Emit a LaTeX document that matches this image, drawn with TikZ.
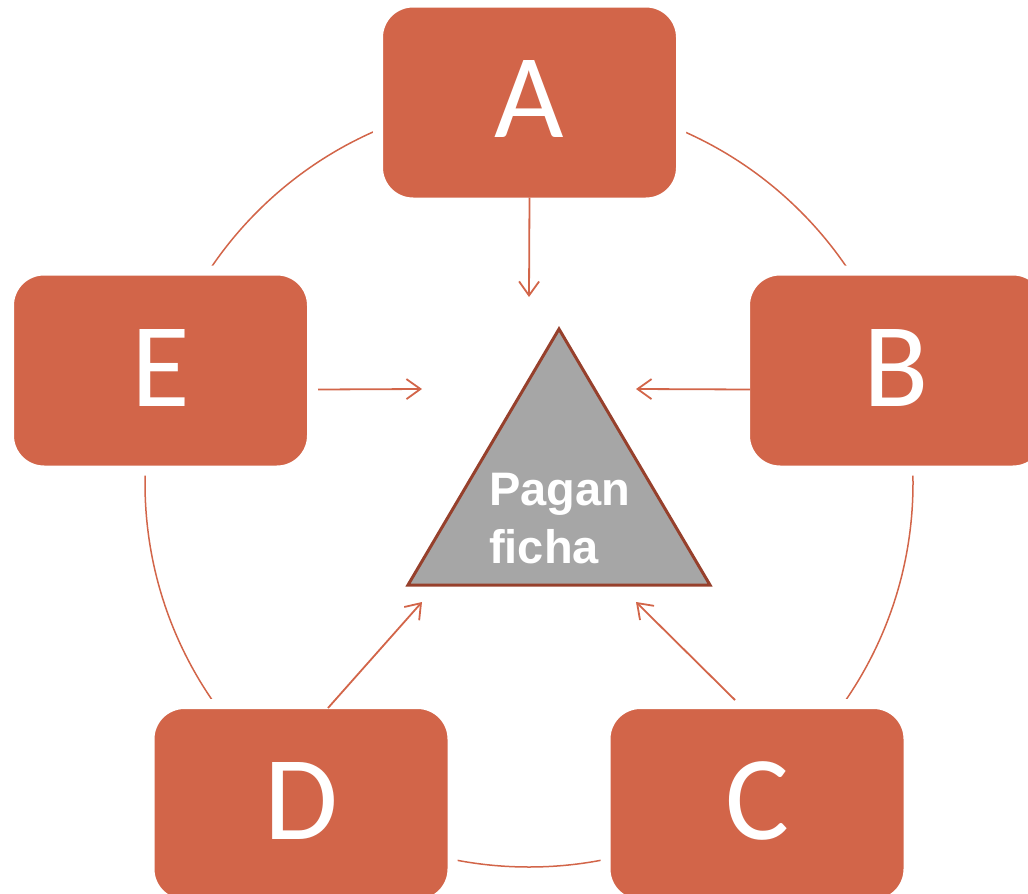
\documentclass[tikz,border=0pt]{standalone}
\usepackage{fontspec}
\newfontfamily\boxfont{Carlito}
\newfontfamily\tagfont{Liberation Sans}
\usetikzlibrary{positioning,arrows.meta,calc}
\definecolor{rust}{HTML}{D26549}
\definecolor{rim}{HTML}{96402C}
\definecolor{stone}{HTML}{A6A6A6}

\begin{document}
\begin{tikzpicture}[x=1pt,y=-1pt,
    player/.style={rectangle,rounded corners=35pt,fill=rust,draw=white,line width=10pt,
      minimum width=303pt,minimum height=200pt,inner sep=0pt,outer sep=0pt,
      text=white,font=\boxfont\fontsize{120}{120}\selectfont},
    pay/.style={draw=rust,line width=1.8pt,-{Straight Barb[length=14pt,width=20pt]}}]
   \useasboundingbox (0,0) rectangle (1028,894);
   % ring behind the players
   \draw[rust,line width=1.5pt] (529,483) circle[radius=384];
   \node[player] (A) at (529.5,102.5) {\raisebox{6pt}{A}};
   \node[player] (B) at (896.5,370.5) {\raisebox{6pt}{B}};
   \node[player] (C) at (757,804) {\raisebox{6pt}{C}};
   \node[player] (D) at (301,804) {\raisebox{6pt}{D}};
   \node[player] (E) at (160.5,370.5) {\raisebox{6pt}{E}};
   \coordinate (tA) at (529,297);
   \coordinate (tB) at (636,389);
   \coordinate (tC) at (636,602);
   \coordinate (tD) at (422,602);
   \coordinate (tE) at (422,389);
   \draw[pay] ([yshift=5pt]A.south) -- (tA);
   \draw[pay] ($(B.west)+(5,19)$) -- (tB);
   \draw[pay] ($(C.north)+(-22,-4)$) -- (tC);
   \draw[pay] ($(D.north)+(27,4)$) -- (tD);
   \draw[pay] ($(E.east)+(6,19)$) -- (tE);
   % the one who pays
   \draw[rim,fill=stone,line width=3pt] (408,585) -- (559,329) -- (710,585) -- cycle;
   \node[anchor=north west,inner sep=0pt,align=left,text=white,
     font=\tagfont\bfseries\fontsize{47}{58}\selectfont] (tag) at (489,473) {Pagan\\ficha};
\end{tikzpicture}
\end{document}
